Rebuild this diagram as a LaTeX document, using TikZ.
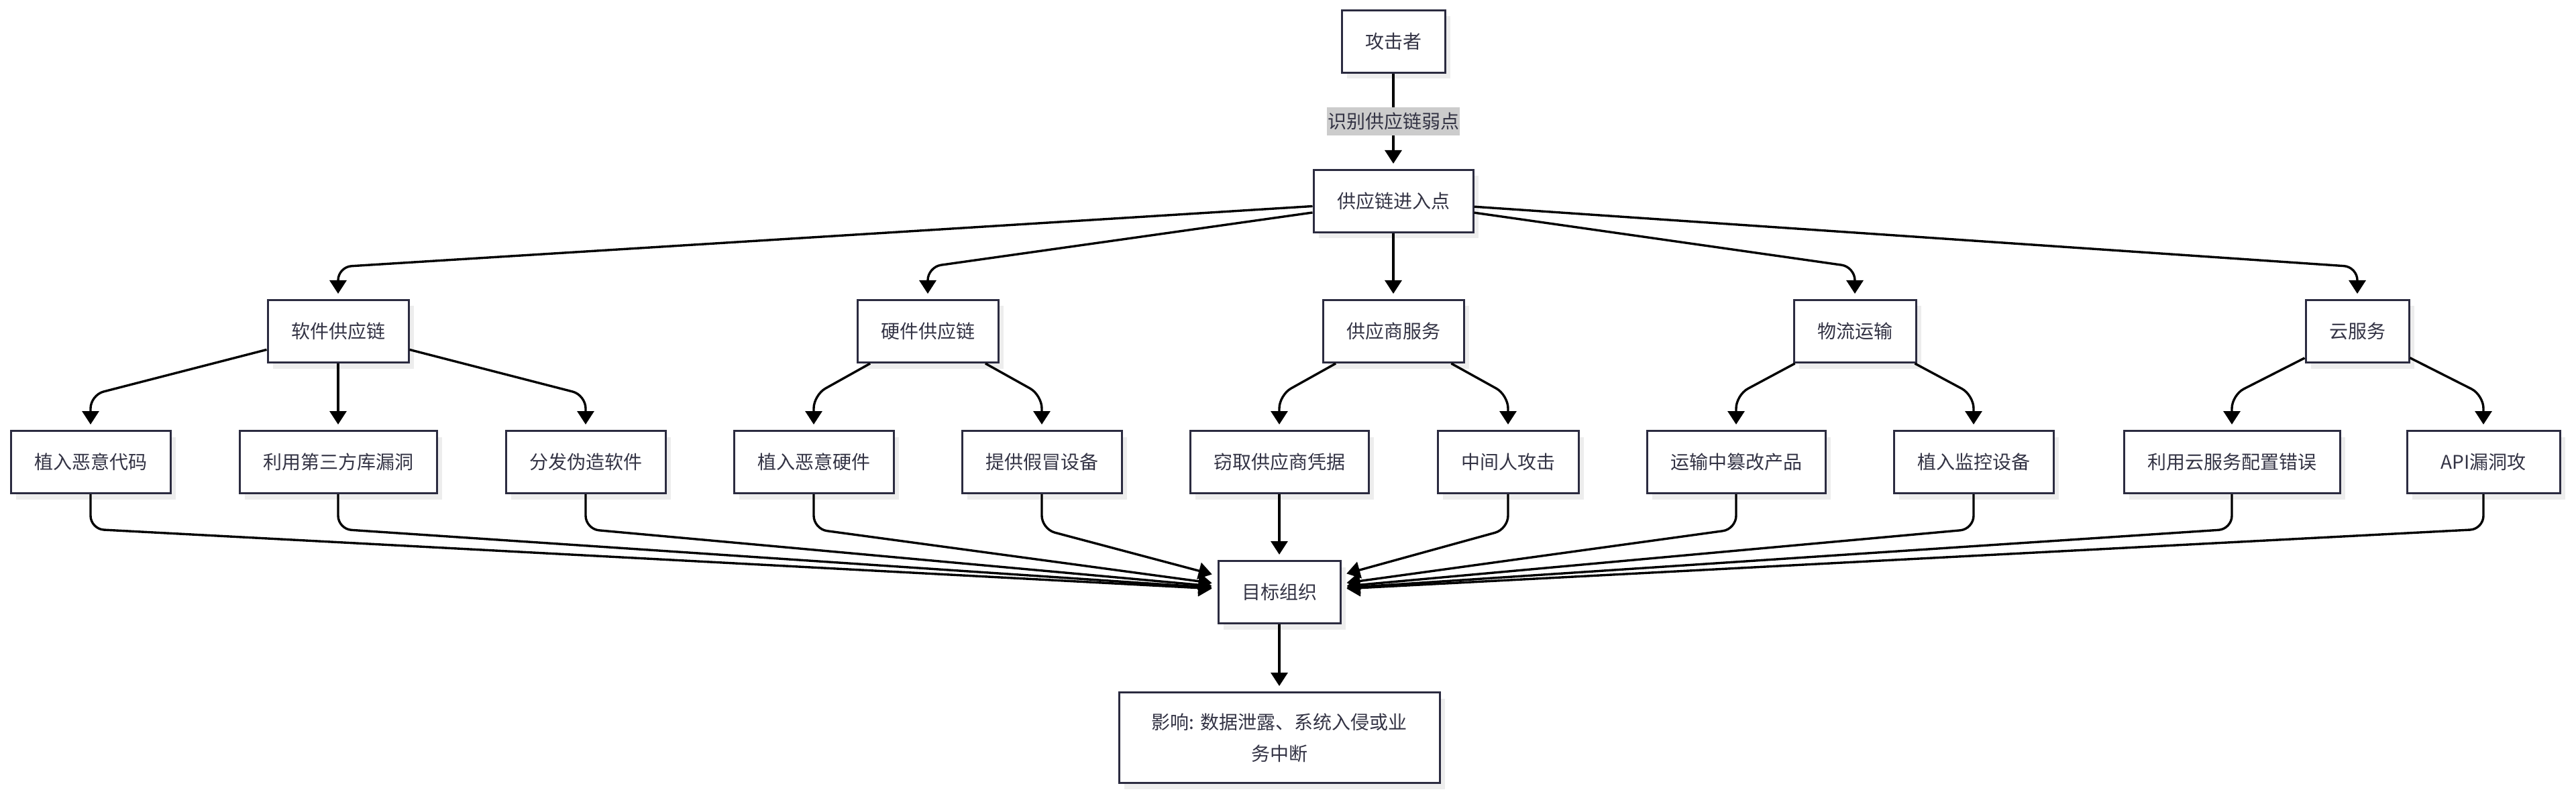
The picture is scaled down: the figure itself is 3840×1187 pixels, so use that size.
\documentclass[tikz,border=0pt]{standalone}
\usepackage{fontspec}
\setmainfont{Noto Sans CJK SC}
\usetikzlibrary{calc,arrows.meta,shadows}
\definecolor{boxline}{HTML}{2B2B40}
\definecolor{boxtext}{HTML}{333344}
\definecolor{lblfill}{HTML}{CCCCCC}
\tikzset{
     stepbox/.style = { draw=boxline, line width=1.5pt, fill=white, text=boxtext,
                        minimum height=46.5pt, inner xsep=17.5pt, inner ysep=0pt,
                        font=\fontsize{14pt}{23.5pt}\selectfont,
                        drop shadow={shadow xshift=4pt, shadow yshift=-4.5pt, fill=black!7, opacity=1} },
        edge/.style = { line width=1.7pt, rounded corners=10pt,
                        -{Triangle[length=10pt,width=12.5pt]}, shorten >=4pt },
   edgelabel/.style = { fill=lblfill, text=boxtext, sharp corners, inner xsep=0.5pt, inner ysep=0pt,
                        minimum height=21pt, font=\fontsize{14pt}{16pt}\selectfont }
}

\begin{document}
\begin{tikzpicture}[x=0.5pt, y=-0.5pt]
  \useasboundingbox (0,0) rectangle (3840,1187);

  % top
  \node[stepbox] (atk)   at (2077,62)  {攻击者};
  \node[stepbox] (entry) at (2077,300) {供应链进入点};

  % chains
  \node[stepbox] (sw)    at (504,494)  {软件供应链};
  \node[stepbox] (hwc)   at (1383,494) {硬件供应链};
  \node[stepbox] (svc)   at (2077,494) {供应商服务};
  \node[stepbox] (log)   at (2765,494) {物流运输};
  \node[stepbox] (cloud) at (3514,494) {云服务};

  % attacks
  \node[stepbox] (code)  at (135,689)  {植入恶意代码};
  \node[stepbox] (lib)   at (504,689)  {利用第三方库漏洞};
  \node[stepbox] (fake)  at (873,689)  {分发伪造软件};
  \node[stepbox] (hw)    at (1213,689) {植入恶意硬件};
  \node[stepbox] (dev)   at (1553,689) {提供假冒设备};
  \node[stepbox] (cred)  at (1907,689) {窃取供应商凭据};
  \node[stepbox] (mitm)  at (2248,689) {中间人攻击};
  \node[stepbox] (tamp)  at (2588,689) {运输中篡改产品};
  \node[stepbox] (spy)   at (2942,689) {植入监控设备};
  \node[stepbox] (cfg)   at (3327,689) {利用云服务配置错误};
  \node[stepbox, minimum width=114pt] (api) at (3702,689) {API漏洞攻};

  % result
  \node[stepbox] (tgt)   at (1907,883) {目标组织};
  \node[stepbox, minimum width=239pt, minimum height=67.5pt, align=center] (imp) at (1907,1100)
    {影响: 数据泄露、系统入侵或业\\务中断};

  % edges
  \draw[edge] (atk) -- node[edgelabel] {识别供应链弱点} (entry);

  \draw[edge] (entry) -- ($(sw.north)+(0,-48)$) -- (sw.north);
  \draw[edge] (entry) -- ($(hwc.north)+(0,-48)$) -- (hwc.north);
  \draw[edge] (entry) -- (svc);
  \draw[edge] (entry) -- ($(log.north)+(0,-48)$) -- (log.north);
  \draw[edge] (entry) -- ($(cloud.north)+(0,-48)$) -- (cloud.north);

  \draw[edge] (sw) -- ($(code.north)+(0,-52)$) -- (code.north);
  \draw[edge] (sw) -- (lib);
  \draw[edge] (sw) -- ($(fake.north)+(0,-52)$) -- (fake.north);
  \draw[edge] (hwc) -- ($(hw.north)+(0,-52)$) -- (hw.north);
  \draw[edge] (hwc) -- ($(dev.north)+(0,-52)$) -- (dev.north);
  \draw[edge] (svc) -- ($(cred.north)+(0,-52)$) -- (cred.north);
  \draw[edge] (svc) -- ($(mitm.north)+(0,-52)$) -- (mitm.north);
  \draw[edge] (log) -- ($(tamp.north)+(0,-52)$) -- (tamp.north);
  \draw[edge] (log) -- ($(spy.north)+(0,-52)$) -- (spy.north);
  \draw[edge] (cloud) -- ($(cfg.north)+(0,-52)$) -- (cfg.north);
  \draw[edge] (cloud) -- ($(api.north)+(0,-52)$) -- (api.north);

  \draw[edge] (code.south) -- ($(code.south)+(0,52)$) -- (tgt);
  \draw[edge] (lib.south) -- ($(lib.south)+(0,52)$) -- (tgt);
  \draw[edge] (fake.south) -- ($(fake.south)+(0,52)$) -- (tgt);
  \draw[edge] (hw.south) -- ($(hw.south)+(0,52)$) -- (tgt);
  \draw[edge] (dev.south) -- ($(dev.south)+(0,52)$) -- (tgt);
  \draw[edge] (cred) -- (tgt);
  \draw[edge] (mitm.south) -- ($(mitm.south)+(0,52)$) -- (tgt);
  \draw[edge] (tamp.south) -- ($(tamp.south)+(0,52)$) -- (tgt);
  \draw[edge] (spy.south) -- ($(spy.south)+(0,52)$) -- (tgt);
  \draw[edge] (cfg.south) -- ($(cfg.south)+(0,52)$) -- (tgt);
  \draw[edge] (api.south) -- ($(api.south)+(0,52)$) -- (tgt);

  \draw[edge] (tgt) -- (imp);
\end{tikzpicture}
\end{document}
